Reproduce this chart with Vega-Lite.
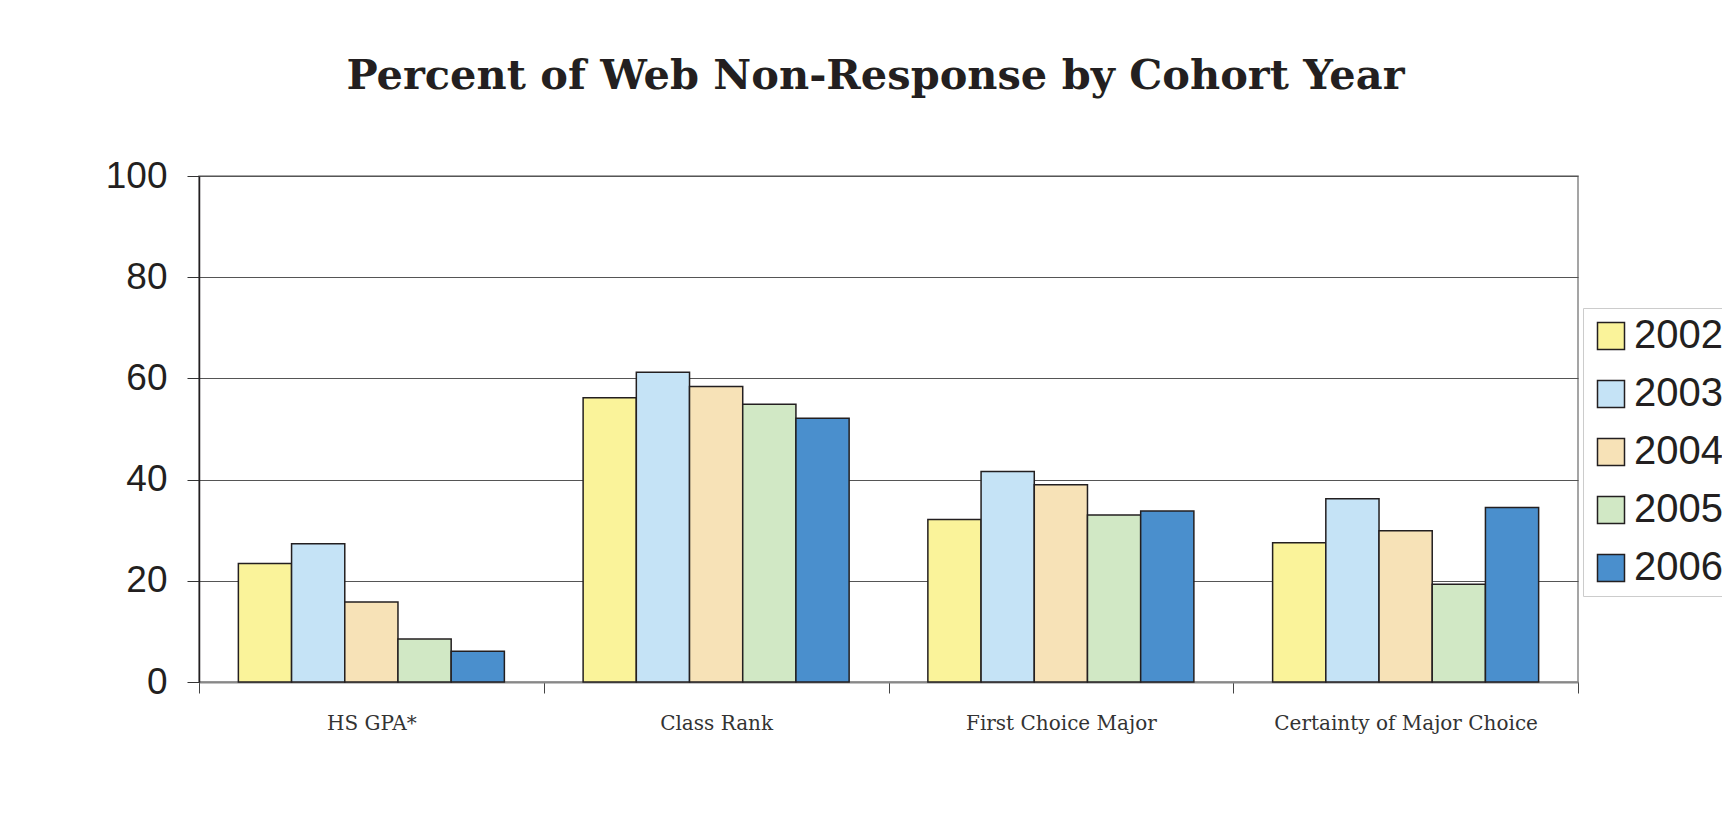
{
  "$schema": "https://vega.github.io/schema/vega-lite/v6.json",
  "autosize": {"type": "none"},
  "padding": {"left": 199, "top": 176, "right": 144, "bottom": 154},
  "width": 1379,
  "height": 506,
  "background": "white",
  "title": {
    "text": "Percent of Web Non-Response by Cohort Year",
    "font": "DejaVu Serif",
    "fontWeight": "bold",
    "fontSize": 41.5,
    "color": "#231f20",
    "anchor": "middle",
    "offset": 60,
    "dx": -13
  },
  "data": {
    "values": [
      {"item": "HS GPA*", "year": "2002", "pct": 23.4},
      {"item": "HS GPA*", "year": "2003", "pct": 27.3},
      {"item": "HS GPA*", "year": "2004", "pct": 15.8},
      {"item": "HS GPA*", "year": "2005", "pct": 8.5},
      {"item": "HS GPA*", "year": "2006", "pct": 6.1},
      {"item": "Class Rank", "year": "2002", "pct": 56.2},
      {"item": "Class Rank", "year": "2003", "pct": 61.2},
      {"item": "Class Rank", "year": "2004", "pct": 58.4},
      {"item": "Class Rank", "year": "2005", "pct": 54.9},
      {"item": "Class Rank", "year": "2006", "pct": 52.1},
      {"item": "First Choice Major", "year": "2002", "pct": 32.1},
      {"item": "First Choice Major", "year": "2003", "pct": 41.6},
      {"item": "First Choice Major", "year": "2004", "pct": 39.0},
      {"item": "First Choice Major", "year": "2005", "pct": 33.0},
      {"item": "First Choice Major", "year": "2006", "pct": 33.8},
      {"item": "Certainty of Major Choice", "year": "2002", "pct": 27.5},
      {"item": "Certainty of Major Choice", "year": "2003", "pct": 36.2},
      {"item": "Certainty of Major Choice", "year": "2004", "pct": 29.9},
      {"item": "Certainty of Major Choice", "year": "2005", "pct": 19.3},
      {"item": "Certainty of Major Choice", "year": "2006", "pct": 34.5}
    ]
  },
  "mark": {"type": "bar", "stroke": "#231f20", "strokeWidth": 1.5},
  "encoding": {
    "x": {
      "field": "item",
      "type": "nominal",
      "sort": null,
      "scale": {"paddingInner": 0, "paddingOuter": 0},
      "axis": {
        "title": null,
        "labelAngle": 0,
        "labelLimit": 0,
        "labelFont": "DejaVu Serif",
        "labelFontSize": 20,
        "labelColor": "#333333",
        "labelPadding": 20,
        "tickBand": "extent",
        "tickSize": 11,
        "tickColor": "#444444",
        "domainColor": "#888888",
        "domainWidth": 2,
        "grid": false
      }
    },
    "xOffset": {
      "field": "year",
      "type": "nominal",
      "scale": {"paddingInner": 0, "paddingOuter": 0.74}
    },
    "y": {
      "field": "pct",
      "type": "quantitative",
      "scale": {"domain": [0, 100], "nice": false},
      "axis": {
        "title": null,
        "values": [0, 20, 40, 60, 80, 100],
        "labelFont": "Liberation Sans",
        "labelFontSize": 37,
        "labelColor": "#231f20",
        "labelPadding": 20,
        "tickSize": 12,
        "tickColor": "#333333",
        "domainColor": "#231f20",
        "domainWidth": 1.5,
        "grid": true,
        "gridColor": "#555555",
        "gridWidth": 1.2
      }
    },
    "color": {
      "field": "year",
      "type": "nominal",
      "scale": {
        "domain": ["2002", "2003", "2004", "2005", "2006"],
        "range": ["#faf39a", "#c5e3f6", "#f7e2b7", "#d1e8c5", "#4a8fcd"]
      },
      "legend": {
        "title": null,
        "orient": "none",
        "legendX": 1384,
        "legendY": 132,
        "symbolType": "square",
        "symbolSize": 729,
        "symbolStrokeColor": "#231f20",
        "symbolStrokeWidth": 1.5,
        "labelFont": "Liberation Sans",
        "labelFontSize": 40,
        "labelColor": "#231f20",
        "labelOffset": 3,
        "rowPadding": 18,
        "padding": 8,
        "strokeColor": "#cccccc",
        "fillColor": "white"
      }
    }
  },
  "config": {
    "view": {"stroke": "#888888", "strokeWidth": 1.5}
  }
}
